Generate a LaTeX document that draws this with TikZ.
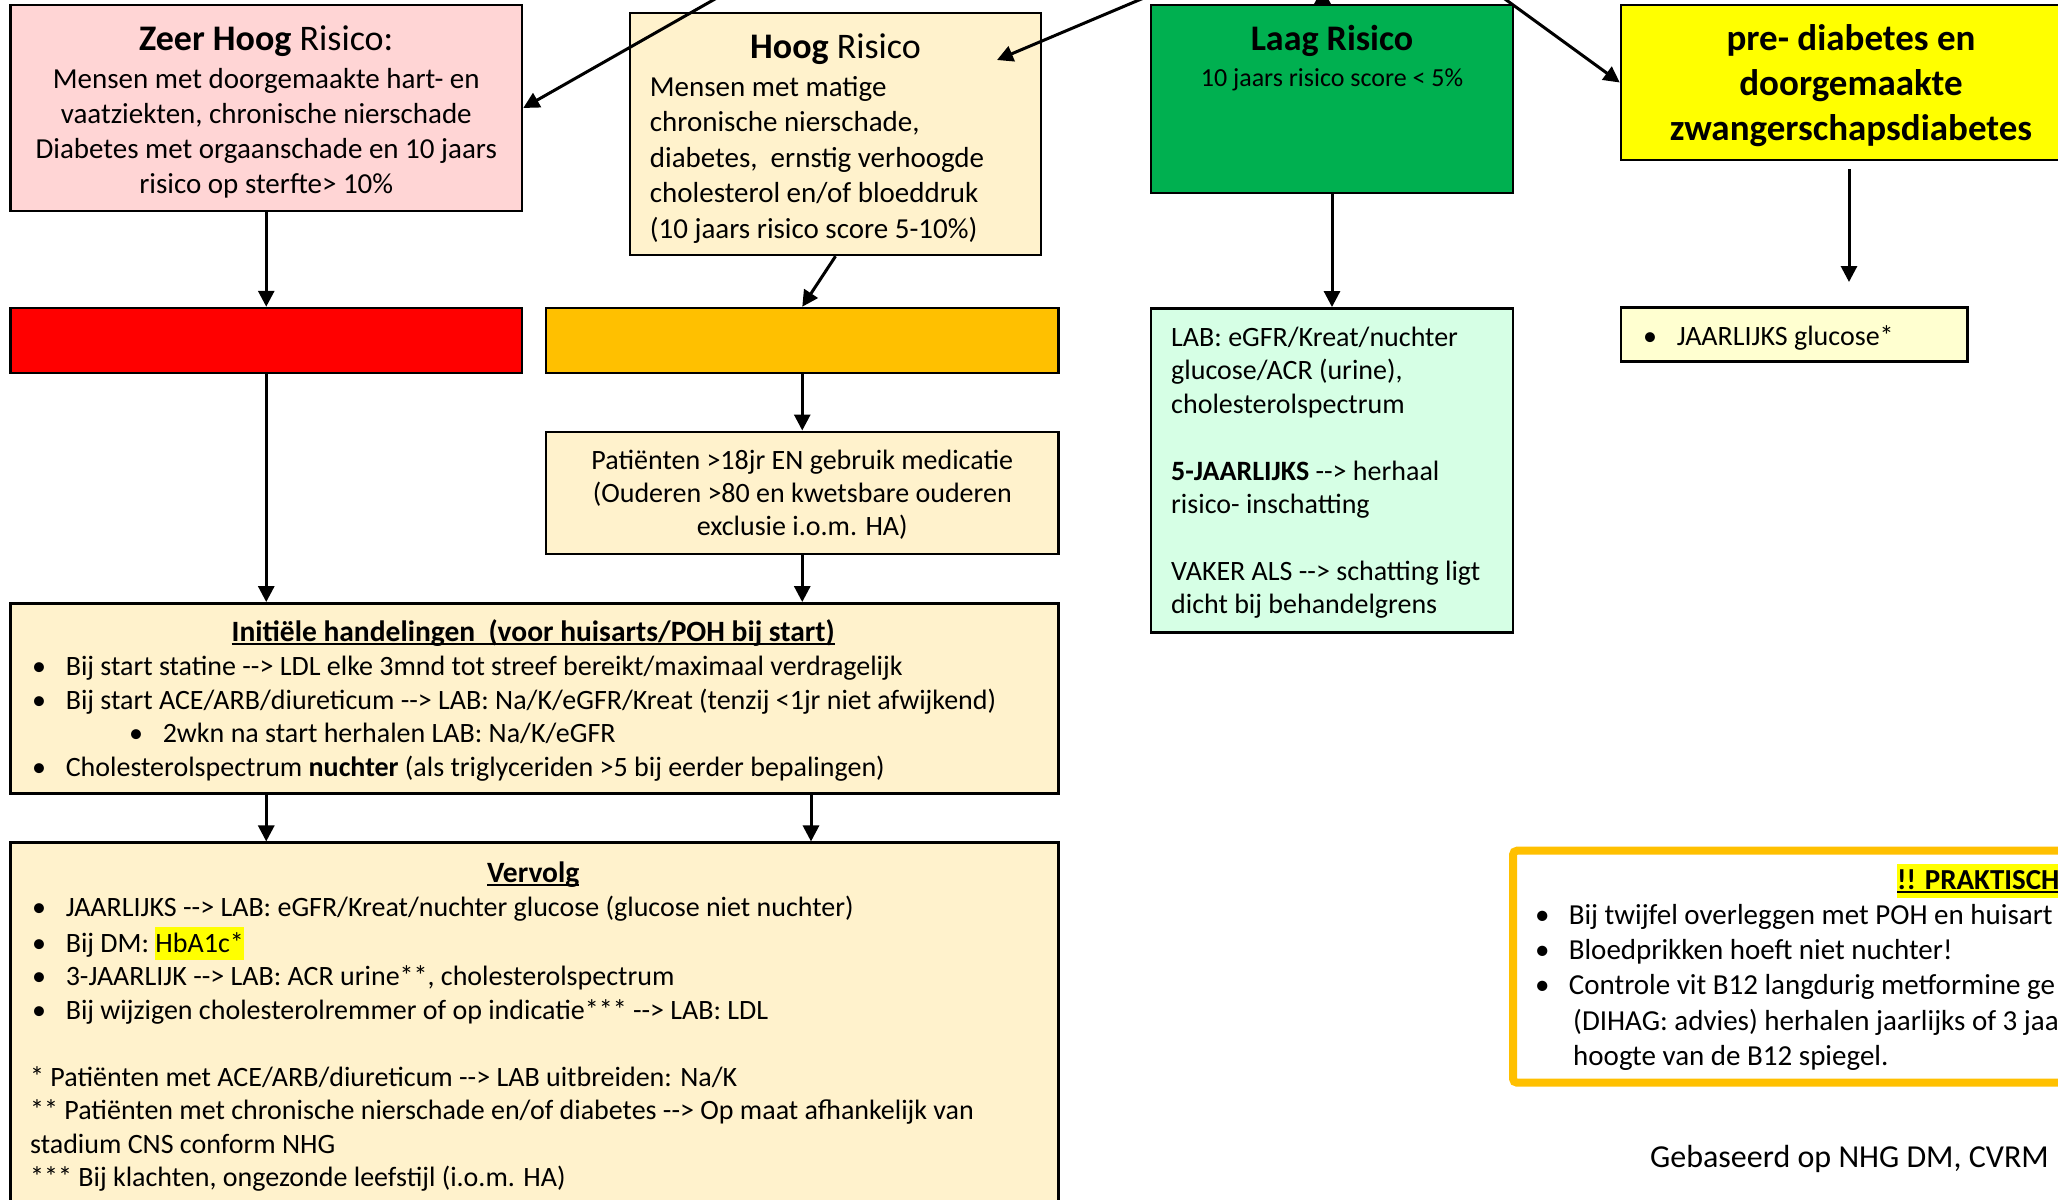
\documentclass[tikz,border=0pt]{standalone}
\usepackage{fontspec}
\setmainfont{Carlito}
\usetikzlibrary{arrows.meta,calc}
\definecolor{zhpink}{RGB}{255,213,213}
\definecolor{cream}{RGB}{255,242,204}
\definecolor{lowgreen}{RGB}{0,176,80}
\definecolor{hiyellow}{RGB}{255,255,0}
\definecolor{barred}{RGB}{255,0,0}
\definecolor{barorange}{RGB}{255,192,0}
\definecolor{mint}{RGB}{214,255,229}
\definecolor{paleyel}{RGB}{255,255,208}
\newcommand\darr{-\kern0pt-\kern0pt>}
\newcommand\ulin[1]{{\setbox0=\hbox{#1}\rlap{\rule[-0.12em]{\wd0}{0.07em}}\box0}}
\newcommand\hlite[1]{{\setlength{\fboxsep}{0pt}\colorbox{hiyellow}{\rule[-0.28em]{0pt}{1.18em}#1}}}
\newcommand\bl{\strut\makebox[33.6pt][l]{\textbullet}}
\begin{document}
\begin{tikzpicture}[x=1pt,y=-1pt,
  box/.style={draw=black,line width=2.5pt,inner sep=0pt,rectangle},
  arr/.style={line width=3pt,-{Triangle[length=16pt,width=16pt]}},
  txt/.style={inner sep=0pt,text=black}]
\useasboundingbox (0,0) rectangle (2058,1199);
\clip (0,0) rectangle (2058,1199);
\fill[white] (0,0) rectangle (2058,1199);

% ---- top row
\node[box,fill=zhpink,minimum width=511.5pt,minimum height=206pt] (zh) at (266.25,108) {};
\node[txt,anchor=base,font=\fontsize{36}{43}\selectfont] (zht) at (266.25,51) {\textbf{Zeer Hoog} Risico:};
\node[txt,anchor=north,align=center,font=\fontsize{29}{35}\selectfont] (zhb) at (266.25,64)
  {\strut Mensen met doorgemaakte hart- en\\ vaatziekten, chronische nierschade\\ Diabetes met orgaanschade en 10 jaars\\ risico op sterfte> 10\%};

\node[box,fill=cream,minimum width=411pt,minimum height=242pt] (hg) at (835.5,134) {};
\node[txt,anchor=base,font=\fontsize{36}{43}\selectfont] (hgt) at (835.5,59) {\textbf{Hoog} Risico};
\node[txt,anchor=north west,align=left,font=\fontsize{29}{35.4}\selectfont] (hgb) at (649.7,71.6)
  {\strut Mensen met matige\\ chronische nierschade,\\ diabetes,\ \ ernstig verhoogde\\ cholesterol en/of bloeddruk\\ (10 jaars risico score 5-10\%)};

\node[box,fill=lowgreen,minimum width=362pt,minimum height=188pt] (lg) at (1332,99) {};
\node[txt,anchor=base,font=\fontsize{36}{43}\selectfont\bfseries] (lgt) at (1332,51) {Laag Risico};
\node[txt,anchor=base,font=\fontsize{26}{31}\selectfont] (lgs) at (1332,86.4) {10 jaars risico score < 5\%};

\node[box,fill=hiyellow,minimum width=460pt,minimum height=155pt] (pd) at (1851,82.5) {};
\node[txt,align=center,font=\fontsize{37}{44.6}\selectfont\bfseries] (pdt) at (1851,86.5)
  {\strut pre- diabetes en\\\strut doorgemaakte\\\strut zwangerschapsdiabetes};

% ---- second row
\node[box,fill=barred,minimum width=511.5pt,minimum height=65pt] (rb) at (266.25,340.5) {};
\node[box,fill=barorange,minimum width=512.5pt,minimum height=65pt] (ob) at (802.25,340.5) {};

\node[box,fill=mint,minimum width=362pt,minimum height=324.4pt] (lab) at (1332,470.5) {};
\node[txt,anchor=west,align=left,font=\fontsize{28}{33.4}\selectfont] (labt) at (1171,473.5)
  {\strut LAB: eGFR/Kreat/nuchter\\\strut glucose/ACR (urine),\\\strut cholesterolspectrum\\\strut\\\strut\textbf{5-JAARLIJKS} \darr{} herhaal\\\strut risico- inschatting\\\strut\\\strut VAKER ALS \darr{} schatting ligt\\\strut dicht bij behandelgrens};

\node[box,fill=paleyel,minimum width=346.5pt,minimum height=54.4pt] (jg) at (1794.25,334.5) {};
\node[txt,anchor=west,font=\fontsize{28}{33.4}\selectfont] (jgt) at (1643,338.5) {\bl JAARLIJKS glucose*};

\node[box,fill=cream,minimum width=512.5pt,minimum height=122.3pt] (pt) at (802.25,492.9) {};
\node[txt,align=center,font=\fontsize{28}{33.4}\selectfont] (ptt) at (802.25,495.9)
  {\strut Patiënten >18jr EN gebruik medicatie\\\strut (Ouderen >80 en kwetsbare ouderen\\\strut exclusie i.o.m. HA)};

% ---- initial
\node[box,fill=cream,minimum width=1048pt,minimum height=190pt] (ini) at (534.4,698.3) {};
\node[txt,anchor=west,align=left,font=\fontsize{28}{33.8}\selectfont] (init) at (32,702.3)
  {\strut\makebox[1002pt]{\fontsize{29.5}{33.8}\selectfont\ulin{\textbf{Initiële handelingen\ \ (voor huisarts/POH bij start)}}}\\
   \bl Bij start statine \darr{} LDL elke 3mnd tot streef bereikt/maximaal verdragelijk\\
   \bl Bij start ACE/ARB/diureticum \darr{} LAB: Na/K/eGFR/Kreat (tenzij <1jr niet afwijkend)\\
   \hspace*{97pt}\bl 2wkn na start herhalen LAB: Na/K/eGFR\\
   \bl Cholesterolspectrum \textbf{nuchter} (als triglyceriden >5 bij eerder bepalingen)};

% ---- vervolg
\node[box,fill=cream,minimum width=1048pt,minimum height=361.4pt] (vv) at (534.4,1023.4) {};
\node[txt,anchor=north west,align=left,font=\fontsize{28}{33.5}\selectfont] (vvt) at (32,858.9)
  {\strut\makebox[1002pt]{\fontsize{29.5}{33.5}\selectfont\ulin{\textbf{Vervolg}}}\\
   \bl JAARLIJKS \darr{} LAB: eGFR/Kreat/nuchter glucose (glucose niet nuchter)\\
   \bl Bij DM: \hlite{HbA1c*}\\
   \bl 3-JAARLIJK \darr{} LAB: ACR urine**, cholesterolspectrum\\
   \bl Bij wijzigen cholesterolremmer of op indicatie*** \darr{} LAB: LDL\\
   \strut\\
   \strut\hspace*{-2pt}* Patiënten met ACE/ARB/diureticum \darr{} LAB uitbreiden: Na/K\\
   \strut\hspace*{-2pt}** Patiënten met chronische nierschade en/of diabetes \darr{} Op maat afhankelijk van\\
   \strut\hspace*{-2pt}stadium CNS conform NHG\\
   \strut\hspace*{-2pt}*** Bij klachten, ongezonde leefstijl (i.o.m. HA)};

% ---- praktisch
\node[draw=barorange,line width=8pt,rounded corners=4pt,fill=white,inner sep=0pt,minimum width=597pt,minimum height=232pt] (pk) at (1811.5,966.7) {};
\node[txt,anchor=base west,font=\fontsize{29}{35}\selectfont] (pkt) at (1897,889.7) {\hlite{\ulin{\textbf{!! PRAKTISCH}}}};
\node[txt,anchor=north west,align=left,font=\fontsize{29}{35.1}\selectfont] (pkb) at (1535,900)
  {\bl Bij twijfel overleggen met POH en huisart\\
   \bl Bloedprikken hoeft niet nuchter!\\
   \bl Controle vit B12 langdurig metformine ge\\
   \strut\hspace*{38pt}(DIHAG: advies) herhalen jaarlijks of 3 jaa\\
   \strut\hspace*{38pt}hoogte van de B12 spiegel.};

\node[txt,anchor=base west,font=\fontsize{32}{38}\selectfont] (src) at (1650,1167.5) {Gebaseerd op NHG DM, CVRM};

% ---- connectors
\coordinate (zhsrc) at (766,-30);
\coordinate (hgsrc) at (1210,-30);
\coordinate (hgin) at (997,60);
\coordinate (pdsrc) at (1465,-30);
\coordinate (lgup) at (1322.5,-12);
\coordinate (pdend) at (1849,282);
\coordinate (ivx) at (811,0);

\draw[arr] (zhsrc) -- (zh.east);
\draw[arr] (hgsrc) -- (hgin);
\draw[arr] (pdsrc) -- (pd.west);
\draw[arr] (lgup |- lg.north) -- (lgup);

\draw[arr] (zh.south) -- (rb.north);
\draw[arr] (hg.south) -- (ob.north);
\draw[arr] (lg.south) -- (lab.north);
\draw[arr,shorten <=8pt] (pd.south -| pdend) -- (pdend);

\draw[arr] (rb.south) -- (rb.south |- ini.north);
\draw[arr] (ob.south) -- (pt.north);
\draw[arr] (pt.south) -- (pt.south |- ini.north);

\draw[arr] (rb.south |- ini.south) -- (rb.south |- vv.north);
\draw[arr] (ivx |- ini.south) -- (ivx |- vv.north);
\end{tikzpicture}
\end{document}
